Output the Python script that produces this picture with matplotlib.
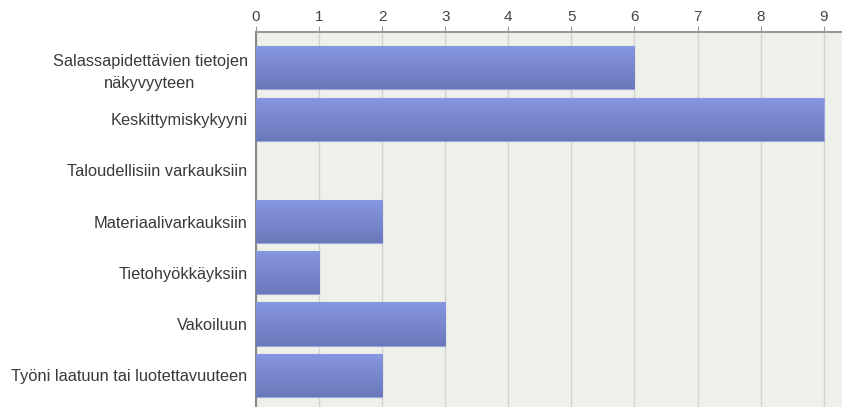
import numpy as np
import matplotlib.pyplot as plt
from matplotlib.colors import LinearSegmentedColormap

categories = ["Salassapidettävien tietojen\nnäkyvyyteen", "Keskittymiskykyyni",
              "Taloudellisiin varkauksiin", "Materiaalivarkauksiin",
              "Tietohyökkäyksiin", "Vakoiluun", "Työni laatuun tai luotettavuuteen"]
values = [6, 9, 0, 2, 1, 3, 2]
ticks = list(range(10))

plt.rcParams['font.family'] = ['Liberation Sans', 'DejaVu Sans']

fig = plt.figure(figsize=(8.42, 4.07), dpi=100)
ax = fig.add_axes([256 / 842, 0.0, 1 - 256 / 842, 1 - 32 / 407])
ax.set_facecolor('#eef0ea')

y = np.arange(len(categories))
bars = ax.barh(y, values, height=0.84, color='#7b88d0', edgecolor='#9aa6e0', linewidth=0.8, zorder=2)

# vertical gradient on each bar
cmap = LinearSegmentedColormap.from_list('bar', ['#8797e0', '#6b79bb'])
grad = np.linspace(0, 1, 64).reshape(-1, 1)
for b in bars:
    if b.get_width() <= 0:
        continue
    x0, y0 = b.get_x(), b.get_y()
    im = ax.imshow(grad, cmap=cmap, aspect='auto', origin='upper',
                   extent=[x0, x0 + b.get_width(), y0 + b.get_height(), y0], zorder=3)
    im.set_clip_path(b)

ax.set_xlim(0, 9.29)
ax.set_ylim(6.62, -0.70)
ax.xaxis.tick_top()
ax.set_xticks(ticks)
ax.set_xticklabels([str(t) for t in ticks])
ax.set_yticks(y)
ax.set_yticklabels(categories, ha='right', multialignment='center', fontsize=11.8,
                   color='#3a3a3a', linespacing=1.55)
ax.tick_params(axis='y', length=0, pad=6)
ax.tick_params(axis='x', length=4, color='#999999', labelsize=11, labelcolor='#444444', pad=2)
ax.grid(axis='x', color='#d2d2d2', linewidth=1, zorder=1)
ax.set_axisbelow(True)

for s in ['right', 'bottom']:
    ax.spines[s].set_visible(False)
ax.spines['top'].set_color('#999999')
ax.spines['top'].set_linewidth(1.5)
ax.spines['left'].set_color('#888888')
ax.spines['left'].set_linewidth(1.5)

fig.savefig('out.png', dpi=100)
